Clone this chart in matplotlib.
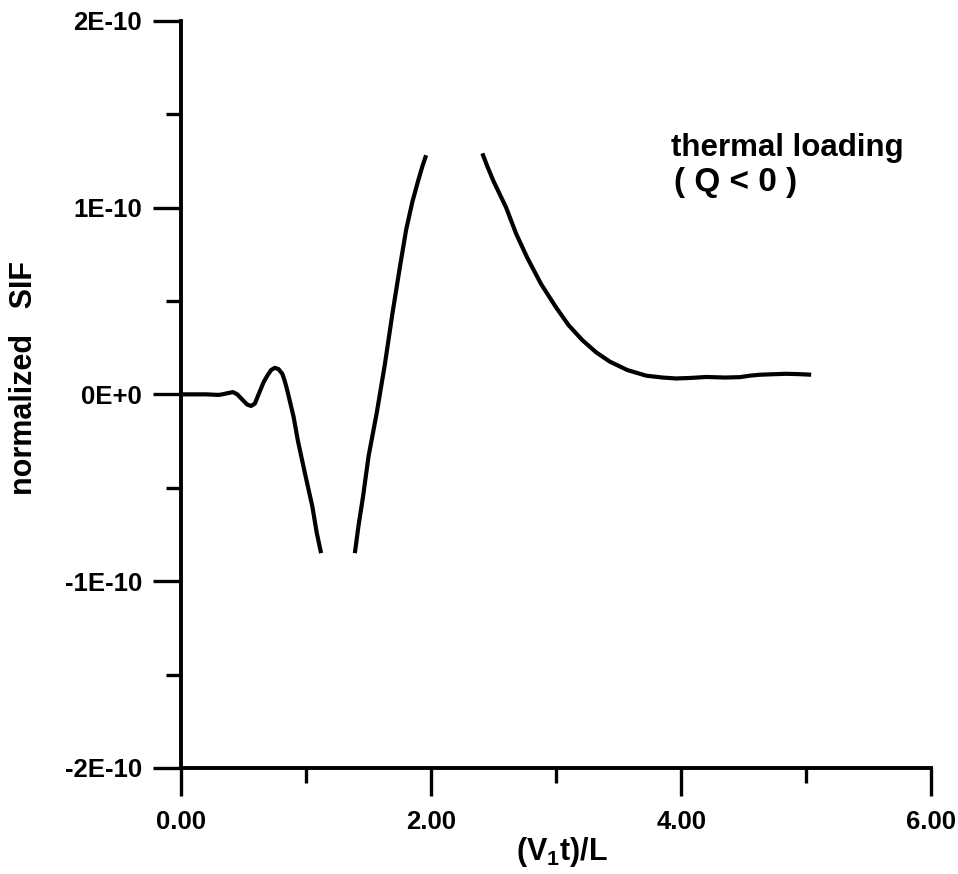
"""
plot.py
Normalized SIF versus (V1 t)/L for thermal loading (Q < 0).
"""

import numpy as np
import matplotlib
matplotlib.use("Agg")
import matplotlib.pyplot as plt

plt.rcParams['font.family'] = ['Liberation Sans', 'DejaVu Sans']
plt.rcParams['font.weight'] = 'bold'
plt.rcParams['mathtext.fontset'] = 'custom'
plt.rcParams['mathtext.bf'] = 'Liberation Sans:bold'
plt.rcParams['mathtext.rm'] = 'Liberation Sans:bold'

# curve (y in units of 1E-10); NaN marks the clipped gaps
x_early = [0.0, 0.1, 0.2, 0.30, 0.33, 0.37, 0.415, 0.45, 0.50, 0.53, 0.56,
           0.59, 0.62, 0.66, 0.69, 0.72, 0.75, 0.78, 0.81, 0.83, 0.85, 0.875,
           0.90, 0.935, 0.99, 1.05, 1.085, 1.12]
y_early = [0.0, 0.0, 0.0, -0.003, 0.0, 0.006, 0.012, 0.0, -0.035, -0.055,
           -0.062, -0.05, 0.0, 0.065, 0.10, 0.13, 0.142, 0.135, 0.11, 0.07,
           0.02, -0.05, -0.12, -0.25, -0.42, -0.60, -0.74, -0.85]

x_rise = [1.39, 1.42, 1.455, 1.50, 1.565, 1.63, 1.69, 1.75, 1.80, 1.85,
          1.895, 1.93, 1.96]
y_rise = [-0.85, -0.70, -0.55, -0.33, -0.10, 0.16, 0.43, 0.68, 0.88, 1.03,
          1.14, 1.22, 1.28]

x_fall = [2.41, 2.45, 2.50, 2.55, 2.60, 2.68, 2.77, 2.88, 3.00, 3.10, 3.21,
          3.32, 3.43, 3.57, 3.72, 3.85, 3.96, 4.08, 4.20, 4.35, 4.47, 4.55,
          4.63, 4.75, 4.84, 4.95, 5.04]
y_fall = [1.29, 1.22, 1.14, 1.07, 1.00, 0.86, 0.73, 0.59, 0.465, 0.37, 0.29,
          0.225, 0.175, 0.13, 0.10, 0.09, 0.085, 0.088, 0.093, 0.09, 0.092,
          0.10, 0.105, 0.108, 0.11, 0.108, 0.105]

x_major = [0, 2, 4, 6]
x_minor = [1, 3, 5]
x_labels = ['0.00', '2.00', '4.00', '6.00']
y_major = [-2, -1, 0, 1, 2]
y_minor = [-1.5, -0.5, 0.5, 1.5]
y_labels = ['-2E-10', '-1E-10', '0E+0', '1E-10', '2E-10']

SCALE = 1e-10


def main() -> None:
    fig = plt.figure(figsize=(9.58, 8.74), dpi=100)
    ax = fig.add_axes([0.189, 0.1213, 0.783, 0.855])

    xs = np.concatenate([x_early, [np.nan], x_rise, [np.nan], x_fall])
    ys = np.concatenate([y_early, [np.nan], y_rise, [np.nan], y_fall]) * SCALE
    ax.plot(xs, ys, color='black', lw=3.0, solid_capstyle='butt',
            solid_joinstyle='round')

    ax.set_xlim(0, 6)
    ax.set_ylim(-2 * SCALE, 2 * SCALE)

    ax.set_xticks(x_major)
    ax.set_xticks(x_minor, minor=True)
    ax.set_xticklabels(x_labels)
    ax.set_yticks([v * SCALE for v in y_major])
    ax.set_yticks([v * SCALE for v in y_minor], minor=True)
    ax.set_yticklabels(y_labels)

    for side in ['top', 'right']:
        ax.spines[side].set_visible(False)
    for side in ['left', 'bottom']:
        ax.spines[side].set_linewidth(2.8)

    ax.tick_params(which='major', direction='out', length=20, width=2.4,
                   labelsize=18.5)
    ax.tick_params(which='minor', direction='out', length=11, width=2.4)
    ax.tick_params(axis='x', which='major', pad=10)
    ax.tick_params(axis='y', which='major', pad=8)
    for lab in ax.get_xticklabels() + ax.get_yticklabels():
        lab.set_fontweight('bold')

    fig.text(24 / 958, 1 - 378 / 874, 'normalized   SIF', rotation=90,
             ha='center', va='center', fontsize=22, fontweight='bold')
    fig.text(562 / 958, 1 - 852 / 874, r'$\mathbf{(V_1t)/L}$',
             ha='center', va='center', fontsize=22)

    ax.text(787 / 958, 1 - 148 / 874, 'thermal loading', transform=fig.transFigure,
            ha='center', va='center', fontsize=22.5, fontweight='bold')
    ax.text(736 / 958, 1 - 183 / 874, '( Q < 0 )', transform=fig.transFigure,
            ha='center', va='center', fontsize=24, fontweight='bold')

    fig.savefig('out.png', dpi=100)


if __name__ == '__main__':
    main()
